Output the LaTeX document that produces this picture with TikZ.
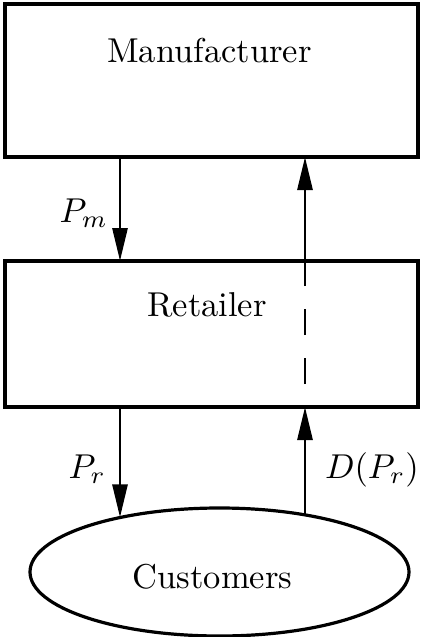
\documentclass[tikz,border=0pt]{standalone}
\usepackage{graphicx}
\usetikzlibrary{arrows.meta,shapes.geometric}
\newcommand{\bigtxt}[1]{\scalebox{3.45}{#1}}
\begin{document}
\begin{tikzpicture}[x=1pt,y=-1pt,
  boxstyle/.style={draw,line width=3.5pt,inner sep=0pt,outer sep=0pt,minimum width=413pt},
  ellstyle/.style={draw,ellipse,line width=3.2pt,inner sep=0pt,outer sep=0pt,minimum width=379pt,minimum height=128pt},
  txt/.style={inner sep=0pt,outer sep=0pt},
  arr/.style={line width=2.8pt,-{Triangle[length=33pt,width=15pt]}},
  dashline/.style={line width=2.8pt,dash pattern=on 26pt off 23pt}]
\useasboundingbox (0,0) rectangle (421,637);
\node[boxstyle,minimum height=153pt] (man) at (211.5,80.5) {};
\node[boxstyle,minimum height=146pt] (ret) at (211.5,334) {};
\node[ellstyle] (cust) at (219.5,572) {};
\node[txt,anchor=base] (mantext) at (209.5,62) {\bigtxt{Manufacturer}};
\node[txt,anchor=base] (rettext) at (207,316) {\bigtxt{Retailer}};
\node[txt,anchor=base] (custtext) at (212.5,588) {\bigtxt{Customers}};
\coordinate (lx) at (120,0);
\coordinate (rx) at (305,0);
\coordinate (dashstart) at (305,384);
% Manufacturer -> Retailer
\draw[arr] (man.south -| lx) -- (ret.north -| lx);
% Retailer -> Customers
\draw[arr] (ret.south -| lx) -- (lx |- cust.151.3);
% Customers -> Retailer
\draw[arr] (rx |- cust.33.7) -- (ret.south -| rx);
% dashed inside retailer
\draw[dashline] (dashstart) -- (ret.north -| rx);
% Retailer -> Manufacturer
\draw[arr] (ret.north -| rx) -- (man.south -| rx);
\node[txt,anchor=base east] (pm) at (108,222) {\bigtxt{$P_m$}};
\node[txt,anchor=base east] (pr) at (106,478) {\bigtxt{$P_r$}};
\node[txt,anchor=base west] (dpr) at (325,478) {\bigtxt{$D(P_r)$}};
\end{tikzpicture}
\end{document}
